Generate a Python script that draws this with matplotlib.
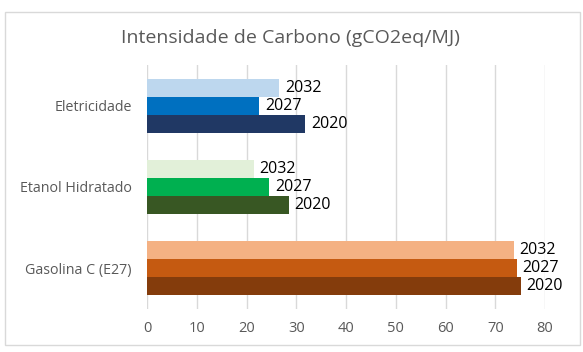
import matplotlib.pyplot as plt
import numpy as np
from matplotlib.patches import Rectangle

# categories, bottom to top as in Excel
categorias = ["Gasolina C (E27)", "Etanol Hidratado", "Eletricidade"]
anos = ["2020", "2027", "2032"]

v2020 = [75.1, 28.5, 31.8]
v2027 = [74.4, 24.6, 22.6]
v2032 = [73.7, 21.5, 26.6]

# colours per category (2020, 2027, 2032)
cores = {
    "Gasolina C (E27)": ["#843C0C", "#C55A11", "#F4B183"],
    "Etanol Hidratado": ["#385723", "#00B050", "#E2F0D9"],
    "Eletricidade": ["#203864", "#0070C0", "#BDD7EE"],
}

plt.rcParams['font.family'] = ['Open Sans', 'DejaVu Sans']

fig = plt.figure(figsize=(5.83, 3.52), dpi=100)
ax = fig.add_axes([147 / 583, 1 - 309 / 352, (545 - 147) / 583, (309 - 65) / 352])

# outer chart border
fig.patches.append(Rectangle((5 / 583, 1 - 345 / 352), 575 / 583, 333 / 352,
                             transform=fig.transFigure, fill=False,
                             edgecolor="#D9D9D9", linewidth=1))

y = np.arange(len(categorias))
h = 0.22
series = [v2020, v2027, v2032]
for i, (ano, vals) in enumerate(zip(anos, series)):
    off = (i - 1) * h
    for j, cat in enumerate(categorias):
        ax.barh(y[j] + off, vals[j], height=h, color=cores[cat][i], zorder=3)
        ax.annotate(ano, (vals[j], y[j] + off), xytext=(4, 0),
                    textcoords="offset points", va="center", ha="left",
                    fontsize=11.5, color="black", zorder=4)

ax.set_xlim(0, 80)
ax.set_ylim(-0.5, 2.5)
ax.set_xticks(np.arange(0, 81, 10))
ax.set_yticks(y)
ax.set_yticklabels(categorias, fontsize=10.3)
ax.grid(axis="x", color="#D9D9D9", linewidth=1, zorder=0)
for s in ax.spines.values():
    s.set_visible(False)
ax.tick_params(axis="both", length=0, colors="#595959")
ax.tick_params(axis="x", pad=9, labelsize=10.5)
ax.tick_params(axis="y", pad=11)

fig.text(0.5 * (123 + 457) / 583, 1 - 38 / 352, "Intensidade de Carbono (gCO2eq/MJ)",
         ha="center", va="center", fontsize=14, color="#595959")

fig.savefig("out.png", dpi=100)
